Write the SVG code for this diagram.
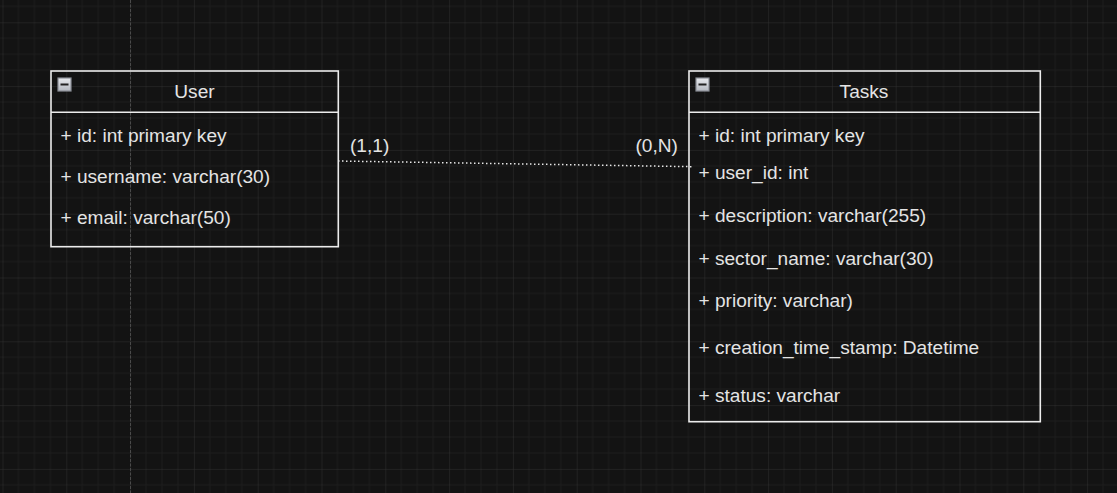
<svg xmlns="http://www.w3.org/2000/svg" width="1117" height="493" viewBox="0 0 1117 493">
  <defs>
    <pattern id="grid" patternUnits="userSpaceOnUse" x="2.5" y="22.3" width="63.8" height="63.8">
      <path d="M15.95 0V63.8M31.9 0V63.8M47.85 0V63.8M0 15.95H63.8M0 31.9H63.8M0 47.85H63.8" stroke="#1d1d1d" stroke-width="1" fill="none"/>
      <path d="M0 0V63.8M0 0H63.8" stroke="#303030" stroke-width="1" fill="none"/>
    </pattern>
    <linearGradient id="iconGrad" x1="0" y1="0" x2="0" y2="1">
      <stop offset="0" stop-color="#e8eaee"/>
      <stop offset="1" stop-color="#b4b8c0"/>
    </linearGradient>
    <g id="collapse">
      <rect x="0.5" y="0.5" width="13" height="13" fill="url(#iconGrad)" stroke="#8a8e96" stroke-width="1.2"/>
      <rect x="3" y="6" width="8" height="2" fill="#222"/>
    </g>
  </defs>
  <style>
    text { font-family: "Liberation Sans", Arial, sans-serif; font-size: 19.1px; fill: #e4e4e4; }
    .title { text-anchor: middle; }
    .box { fill: none; stroke: #ececec; stroke-width: 1.6; }
    .conn { stroke: #e8e8e8; stroke-width: 1.5; stroke-dasharray: 1.5 2.5; fill: none; }
  </style>
  <rect width="1117" height="493" fill="#131313"/>
  <rect width="1117" height="493" fill="url(#grid)"/>
  <line x1="130.5" y1="0" x2="130.5" y2="493" stroke="#4a4a4a" stroke-width="1" stroke-dasharray="3 1.5"/>

  <g id="connectors">
    <line class="conn" x1="338" y1="161" x2="693" y2="166.7"/>
    <text x="350" y="151.5">(1,1)</text>
    <text x="635.5" y="151.5">(0,N)</text>
  </g>

  <g id="user">
    <rect class="box" x="51" y="71" width="287.3" height="175.7"/>
    <line class="box" x1="51" y1="112.3" x2="338.3" y2="112.3"/>
    <use href="#collapse" x="57.5" y="77.5"/>
    <text class="title" x="194.5" y="98.3">User</text>
    <text x="60.5" y="141.7">+ id: int primary key</text>
    <text x="60.5" y="183.3">+ username: varchar(30)</text>
    <text x="60.5" y="224.3">+ email: varchar(50)</text>
  </g>

  <g id="tasks">
    <rect class="box" x="689" y="71" width="351.3" height="350.7"/>
    <line class="box" x1="689" y1="112.3" x2="1040.3" y2="112.3"/>
    <use href="#collapse" x="695.5" y="77.5"/>
    <text class="title" x="864" y="98.3">Tasks</text>
    <text x="698.5" y="141.7">+ id: int primary key</text>
    <text x="698.5" y="179">+ user_id: int</text>
    <text x="698.5" y="221.7">+ description: varchar(255)</text>
    <text x="698.5" y="265">+ sector_name: varchar(30)</text>
    <text x="698.5" y="307.3">+ priority: varchar)</text>
    <text x="698.5" y="354.3">+ creation_time_stamp: Datetime</text>
    <text x="698.5" y="401.7">+ status: varchar</text>
  </g>
</svg>
